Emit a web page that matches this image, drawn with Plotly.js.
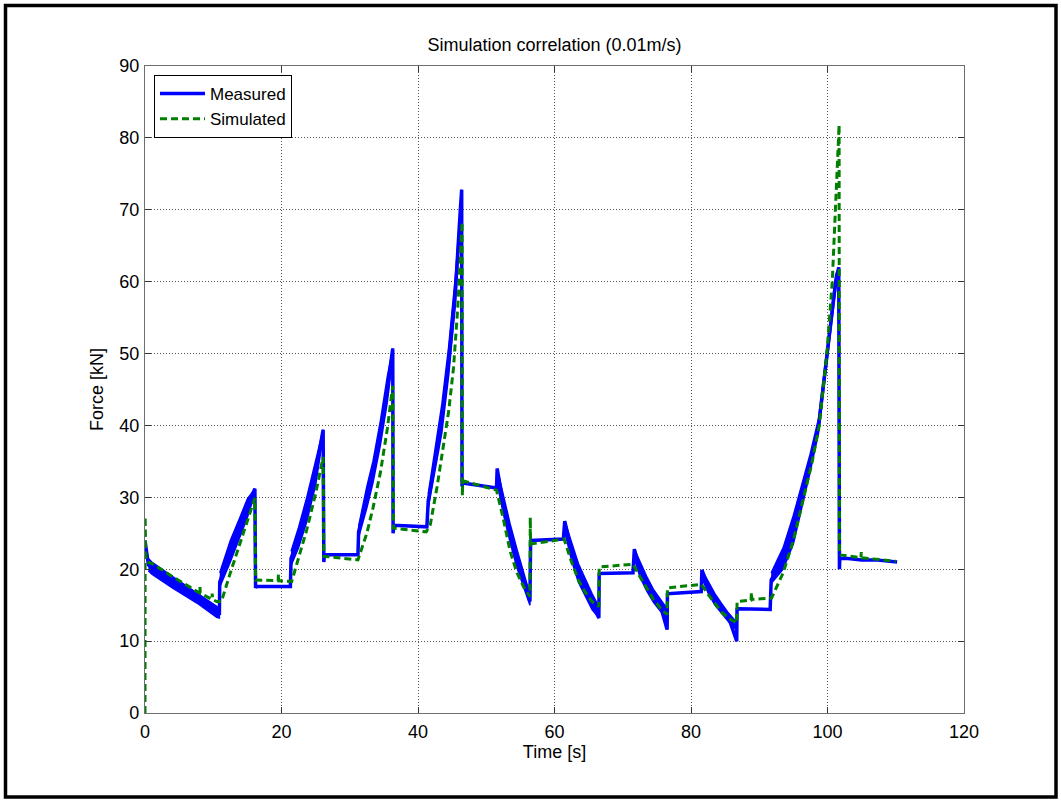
<!DOCTYPE html>
<html>
<head>
<meta charset="utf-8">
<script src="https://cdn.plot.ly/plotly-3.0.1.min.js"></script>
<style>
  html, body { margin: 0; padding: 0; background: #fff; }
  #chart { width: 1061px; height: 801px; }
</style>
</head>
<body>
<div id="chart"></div>
<script>
// ---- Data ----
const chartTitle = "Simulation correlation (0.01m/s)";
const xTitle = "Time [s]";
const yTitle = "Force [kN]";
const xTickVals = [0, 20, 40, 60, 80, 100, 120];
const yTickVals = [0, 10, 20, 30, 40, 50, 60, 70, 80, 90];

// Measured (centre line)
const measuredT = [0, 0.2, 0.5, 1, 4, 7.6, 10.5, 10.9, 10.95, 12.5, 13.9, 15, 16.1, 16.2, 16.3, 21.3, 21.4, 22.5, 23.7, 25, 26.1, 26.2, 26.3, 31.2, 31.3, 32.5, 33.4, 34.5, 35.5, 36.3, 36.35, 36.45, 41.3, 41.5, 42.5, 43.5, 44.5, 45.5, 46.2, 46.4, 46.45, 46.55, 51.5, 51.6, 52.5, 53.5, 54.5, 55.5, 56.4, 56.5, 56.55, 61.3, 61.5, 62.5, 63.5, 64.5, 65.5, 66.5, 66.55, 66.6, 71.5, 71.7, 72.5, 73.5, 74.5, 75.5, 76.5, 76.55, 76.6, 81.5, 81.6, 82.5, 83.5, 84.5, 85.5, 86.7, 86.75, 86.8, 91.6, 91.75, 93.5, 95, 96.2, 97.45, 98.7, 100, 101.2, 101.65, 101.75, 101.8, 103, 105, 107, 110.2];
const measuredF = [24, 22.5, 20.6, 20.2, 18.2, 16, 14, 13.9, 18.2, 22.5, 25.8, 28.5, 31.2, 17.4, 17.6, 17.6, 21.5, 24.3, 28.3, 33.5, 39.4, 21, 22, 22, 25.2, 30, 33.5, 39, 45, 50.7, 25, 26.1, 25.9, 29.5, 35, 41, 49, 59, 70, 72.8, 31.5, 32, 31.3, 34, 29, 25, 21.5, 18.5, 15.5, 23.9, 24, 24.2, 26.7, 22.5, 19.5, 17.5, 15.5, 13.2, 19.5, 19.4, 19.5, 22.8, 20, 18, 16.3, 15, 11.6, 16.7, 16.6, 16.9, 19.9, 17.5, 15.8, 14.5, 13.3, 10, 14.6, 14.5, 14.4, 18.5, 21.5, 25.5, 30, 34.7, 40, 50, 60, 62, 20, 21.5, 21.5, 21.3, 21.3, 21];

// Measured oscillation band (upper / lower envelopes) for the sloped segments
const bandT = [
  [0.5, 1, 4, 7.6, 10.5, 10.9],
  [10.95, 12.5, 13.9, 15, 16.1],
  [21.4, 22.5, 23.7, 25, 26.1],
  [31.3, 32.5, 33.4, 34.5, 35.5, 36.3],
  [41.5, 42.5, 43.5, 44.5, 45.5, 46.4],
  [51.6, 52.5, 53.5, 54.5, 55.5, 56.4],
  [61.5, 62.5, 63.5, 64.5, 65.5, 66.5],
  [71.7, 72.5, 73.5, 74.5, 75.5, 76.5],
  [81.6, 82.5, 83.5, 84.5, 85.5, 86.7],
  [91.75, 93.5, 95, 96.2, 97.45, 98.7, 100, 101.2, 101.65]
];
const bandUpper = [
  [21.5, 21, 19, 16.7, 14.8, 14.6],
  [19.5, 24, 27.2, 29.8, 31.2],
  [22.5, 25.8, 30, 35.3, 39.4],
  [26, 31.5, 35, 40.7, 46.8, 50.7],
  [30.5, 36.5, 43, 51, 61, 72.8],
  [34, 30.3, 26.3, 22.8, 19.6, 16.5],
  [26.7, 23.8, 20.8, 18.7, 16.6, 14.8],
  [22.8, 21, 19, 17.2, 15.8, 14.5],
  [19.9, 18.3, 16.6, 15.2, 13.9, 12.6],
  [19.5, 23, 27.5, 31.5, 36, 41, 51, 61, 62]
];
const bandLower = [
  [19.8, 19.3, 17.4, 15.3, 13.3, 13.2],
  [17.5, 21, 24.4, 27.2, 30.5],
  [20.5, 23, 26.6, 31.7, 38.5],
  [24.4, 28.5, 32, 37.3, 43.2, 49.5],
  [28.5, 33.5, 39, 47, 57, 71],
  [32, 27.7, 23.7, 20.2, 17.4, 15],
  [25.2, 21.2, 18.2, 16.3, 14.4, 13.2],
  [21.5, 19, 17, 15.4, 14.2, 13.2],
  [18.8, 16.7, 15, 13.8, 12.7, 11.5],
  [18, 20, 23.5, 28.5, 33.5, 39, 49, 59, 61.5]
];

// Simulated
const simulatedT = [0, 0.02, 0.1, 0.3, 1, 4, 7.6, 8, 8.05, 8.1, 9.8, 9.85, 9.9, 10.5, 11.2, 12.5, 13.9, 15, 16.1, 16.2, 19.5, 19.55, 19.6, 21.5, 22.5, 23.7, 25, 26.1, 26.2, 28, 31.2, 32.5, 33.4, 34.5, 35.5, 36.3, 36.4, 41.2, 41.8, 42.8, 43.8, 44.5, 45.2, 45.8, 46.3, 46.45, 46.5, 46.55, 51.5, 52.5, 53.5, 54.5, 55.5, 56.4, 56.45, 56.5, 61.4, 62.5, 63.5, 64.5, 65.5, 66.5, 66.55, 71.5, 72.5, 73.5, 74.5, 75.5, 76.5, 76.55, 81.5, 82.5, 83.5, 84.5, 85.5, 86.7, 86.75, 88.8, 88.85, 88.9, 91.8, 93.5, 95, 96.5, 97.7, 98.8, 99.9, 100.7, 101.2, 101.7, 101.75, 104.9, 104.95, 105, 110];
const simulatedF = [0, 27.3, 22, 21, 20.8, 19, 16.9, 16.7, 17.5, 16.7, 15.8, 16.6, 15.8, 15.5, 15.5, 19.5, 23.5, 26.5, 29.9, 18.5, 18.4, 19.3, 18.4, 18.3, 21.5, 25.5, 30.5, 35.6, 21.8, 21.6, 21.3, 25, 28.5, 33.5, 39.5, 45.5, 25.7, 25.2, 26.2, 31.5, 37.5, 42, 48, 56, 65, 68.3, 30.2, 32.3, 31, 27, 22.5, 19.5, 17.5, 16.2, 27.2, 23.5, 24.2, 21, 18.5, 16.8, 15.5, 14.8, 20.3, 20.7, 19, 17.3, 15.8, 14.6, 13.7, 17.4, 17.9, 16.5, 15.2, 14, 13.2, 12.5, 15.5, 15.7, 16.8, 15.8, 16, 19.5, 24, 30, 34.7, 40, 50, 60, 70, 81.8, 22, 21.6, 22.4, 21.6, 21.1];

// ---- Plot ----
const BLUE = "#0000ff";
const GREEN = "#007f00";
const FONT = "Liberation Sans, Arial, Helvetica, sans-serif";
const FS = 18;

const traces = [];
for (let i = 0; i < bandT.length; i++) {
  const xs = bandT[i].concat(bandT[i].slice().reverse());
  const ys = bandUpper[i].concat(bandLower[i].slice().reverse());
  traces.push({
    x: xs, y: ys, type: "scatter", mode: "lines",
    fill: "toself", fillcolor: BLUE,
    line: { color: BLUE, width: 1.5 },
    showlegend: false, hoverinfo: "skip"
  });
}
traces.push({
  x: measuredT, y: measuredF, type: "scatter", mode: "lines",
  name: "Measured", line: { color: BLUE, width: 3.5 }
});
traces.push({
  x: simulatedT, y: simulatedF, type: "scatter", mode: "lines",
  name: "Simulated", line: { color: GREEN, width: 3, dash: "7px,4px" }
});

// plot area in pixels: left 145, right 964, top 66, bottom 713
const L = 145, R = 964, T = 66, B = 713;
const W = 1061, H = 801;
const px = v => (v - L) / (R - L);
const py = v => (B - v) / (B - T);

const axisCommon = {
  showline: true, linecolor: "#6e6e6e", linewidth: 1.2, mirror: "ticks",
  ticks: "inside", ticklen: 6, tickcolor: "#333", tickwidth: 1,
  showgrid: true, gridcolor: "#555", griddash: "1px,2px", gridwidth: 1,
  zeroline: false,
  tickfont: { family: FONT, size: FS, color: "#000" }
};

const layout = {
  width: W, height: H,
  margin: { l: L, r: W - R, t: T, b: H - B, pad: 0 },
  paper_bgcolor: "#fff", plot_bgcolor: "#fff",
  font: { family: FONT, color: "#000" },
  title: {
    text: chartTitle, font: { family: FONT, size: FS, color: "#000" },
    x: 0.5, xanchor: "center", xref: "paper",
    y: 1 - 45 / H, yanchor: "middle"
  },
  xaxis: Object.assign({}, axisCommon, {
    range: [0, 120], tickvals: xTickVals, ticktext: xTickVals.map(String),
    ticklabelstandoff: 2,
    title: { text: xTitle, font: { family: FONT, size: FS, color: "#000" }, standoff: 2 }
  }),
  yaxis: Object.assign({}, axisCommon, {
    range: [0, 90], tickvals: yTickVals, ticktext: yTickVals.map(String),
    ticklabelstandoff: 1,
    title: { text: yTitle, font: { family: FONT, size: FS, color: "#000" }, standoff: 10 }
  }),
  legend: {
    x: px(154), y: py(75), xanchor: "left", yanchor: "top",
    bgcolor: "#fff", bordercolor: "#000", borderwidth: 1,
    font: { family: FONT, size: 17, color: "#000" },
    tracegroupgap: 0, itemwidth: 45
  },
  showlegend: true,
  shapes: [{
    type: "rect", xref: "paper", yref: "paper",
    x0: px(5.5), x1: px(1056), y0: py(5.5), y1: py(797),
    line: { color: "#000", width: 3.5 }, fillcolor: "rgba(0,0,0,0)", layer: "above"
  }]
};

Plotly.newPlot("chart", traces, layout, { displayModeBar: false, staticPlot: true });
</script>
</body>
</html>
